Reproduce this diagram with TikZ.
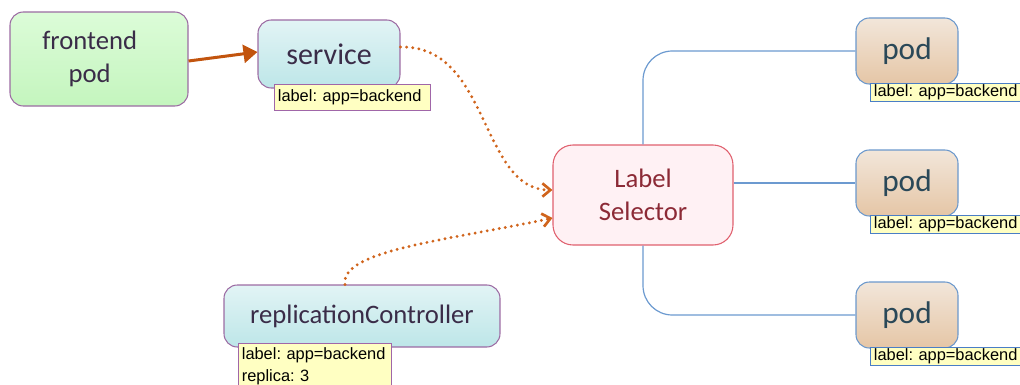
\documentclass[tikz,border=0pt]{standalone}
\usepackage{fontspec}
\setmainfont{Carlito}
\newfontfamily\lblfont{Liberation Sans}
\usetikzlibrary{arrows.meta,positioning}
\definecolor{boxpurple}{HTML}{9C6BA3}
\definecolor{greentop}{HTML}{DCFCD8}
\definecolor{greenbot}{HTML}{C4F5BE}
\definecolor{cyantop}{HTML}{E2F4F5}
\definecolor{cyanbot}{HTML}{BDE6E8}
\definecolor{tantop}{HTML}{F2E6DA}
\definecolor{tanbot}{HTML}{E5C6A6}
\definecolor{podblue}{HTML}{6B98CC}
\definecolor{pinkfill}{HTML}{FFF1F4}
\definecolor{pinkline}{HTML}{E0606E}
\definecolor{selred}{HTML}{8C2A36}
\definecolor{darktext}{HTML}{3A2C48}
\definecolor{podtext}{HTML}{2A4858}
\definecolor{notefill}{HTML}{FFFFC2}
\definecolor{notepurple}{HTML}{A066A8}
\definecolor{noteblue}{HTML}{4A7EC6}
\definecolor{linkorange}{HTML}{C2540E}
\definecolor{dotorange}{HTML}{D0641C}
\definecolor{wireblue}{HTML}{6C9AD0}
\tikzset
{
    appnode/.style = {rectangle, rounded corners=10pt, draw=boxpurple, line width=0.8pt, align=center, text=darktext},
    greennode/.style = {appnode, top color=greentop, bottom color=greenbot, font=\fontsize{20}{24.75}\selectfont},
    cyannode/.style = {appnode, top color=cyantop, bottom color=cyanbot, font=\fontsize{20}{24.75}\selectfont},
    podnode/.style = {rectangle, rounded corners=10pt, draw=podblue, line width=0.8pt, top color=tantop, bottom color=tanbot, text=podtext, minimum width=76.5pt, minimum height=49.5pt, font=\fontsize{23.5}{28}\selectfont},
    selnode/.style = {rectangle, rounded corners=15pt, draw=pinkline, line width=0.8pt, fill=pinkfill, text=selred, align=center, minimum width=135pt, minimum height=75pt, font=\fontsize{20}{24.75}\selectfont},
    note/.style = {rectangle, draw, fill=notefill, line width=0.8pt, align=left, anchor=north west, inner xsep=2.5pt, font=\lblfont\fontsize{12.3}{16.5}\selectfont\frenchspacing},
    hardlink/.style = {draw=linkorange, line width=2.25pt, -{Triangle[length=10.5pt,width=13.5pt]}},
    softlink/.style = {draw=dotorange, line width=2.4pt, line cap=round, dash pattern=on 0pt off 4.6pt, -{Straight Barb[length=6pt,width=10pt,line width=2pt]}},
    wire/.style = {draw=wireblue, line width=0.9pt, rounded corners=22pt}
}
\begin{document}
\begin{tikzpicture}[x=0.75pt,y=-0.75pt]
\useasboundingbox (0,0) rectangle (1020,385);
\clip (0,0) rectangle (1020,385);
% left side
\node[greennode, minimum width=133.5pt, minimum height=70.5pt] (frontend) at (99,59) {frontend\hspace*{14pt}\\pod\hspace*{14pt}};
\node[cyannode, minimum width=106.5pt, minimum height=51pt, font=\fontsize{22.5}{27}\selectfont] (service) at (329,54) {service};
\node[note, draw=notepurple, text width=112pt, minimum height=19.5pt] (servicelabel) at (274,84) {label: app=backend};
\node[cyannode, minimum width=207pt, minimum height=46.5pt] (rc) at (362,316) {replicationController};
\node[note, draw=notepurple, text width=110pt, inner ysep=3pt] (rclabel) at (238,343) {label: app=backend\\replica: 3};
% selector
\node[selnode] (selector) at (643,195) {Label\\Selector};
% pods
\node[podnode] (pod1) at (907,51) {pod};
\node[podnode] (pod2) at (907,183) {pod};
\node[podnode] (pod3) at (907,315) {pod};
\node[note, draw=noteblue, text width=115pt, inner ysep=1pt] (podlabel1) at (870,83) {label: app=backend};
\node[note, draw=noteblue, text width=115pt, inner ysep=1pt] (podlabel2) at (870,215) {label: app=backend};
\node[note, draw=noteblue, text width=115pt, inner ysep=1pt] (podlabel3) at (870,347) {label: app=backend};
% connectors
\draw[hardlink] ([yshift=-1.5pt]frontend.east) -- ([yshift=1.5pt]service.west);
\draw[softlink] ([yshift=5.25pt]service.east) .. controls (490,45) and (480,190) .. ([yshift=3.75pt]selector.west);
\coordinate (rctop) at ([xshift=-12.75pt]rc.north);
\draw[softlink] (rctop) .. controls (340,250) and (450,240) .. ([yshift=-17.25pt]selector.west);
\draw[wire] (selector.north) |- (pod1.west);
\draw[wire] (selector.east |- pod2.west) -- (pod2.west);
\draw[wire] (selector.south) |- (pod3.west);
\end{tikzpicture}
\end{document}
